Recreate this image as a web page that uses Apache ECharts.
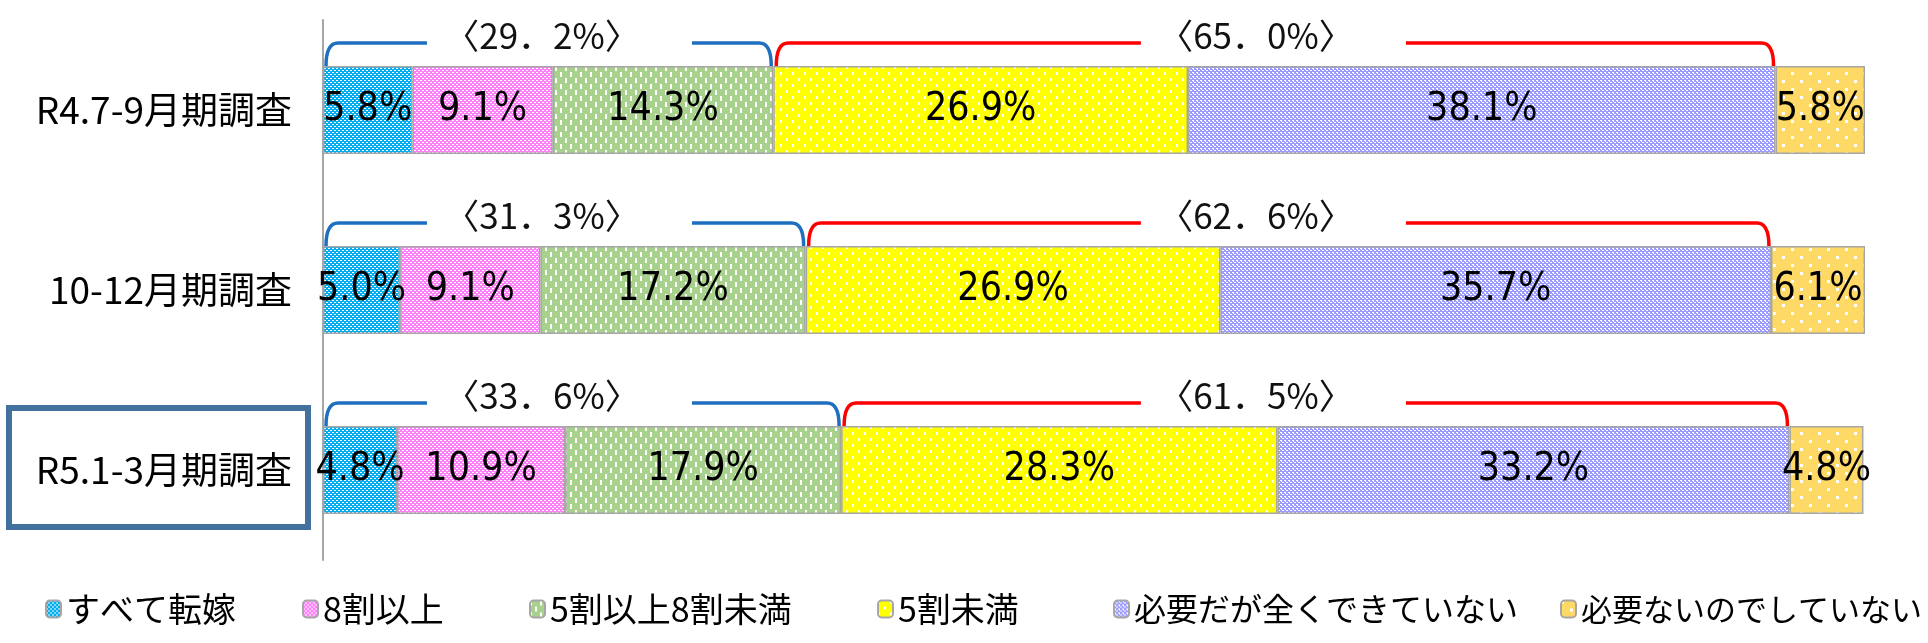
<!doctype html>
<html lang="ja">

<head>
    <meta charset="UTF-8" />
    <title>価格転嫁の状況</title>
    <style>
        html, body { margin: 0; padding: 0; background: #fff; }
        #main { width: 1928px; height: 643px; }
    </style>
</head>

<body>
    <div id="main"></div>

    <script src="https://cdn.jsdelivr.net/npm/echarts@6/dist/echarts.min.js"></script>
    <script type="text/javascript">
        // 調査期
        var categories = ['R4.7-9月期調査', '10-12月期調査', 'R5.1-3月期調査'];
        // 凡例
        var seriesNames = ['すべて転嫁', '8割以上', '5割以上8割未満', '5割未満', '必要だが全くできていない', '必要ないのでしていない'];
        // 各区分の割合（%）
        var allPassed = [5.8, 5.0, 4.8];
        var over80 = [9.1, 9.1, 10.9];
        var from50to80 = [14.3, 17.2, 17.9];
        var under50 = [26.9, 26.9, 28.3];
        var neededNone = [38.1, 35.7, 33.2];
        var notNeeded = [5.8, 6.1, 4.8];
        var values = [allPassed, over80, from50to80, under50, neededNone, notNeeded];

        // 括弧でまとめる区分（先頭から3つ／次の2つ）
        var groups = [
            { from: 0, to: 3, color: '#1F6FC0', labelAt: 14.2 },
            { from: 3, to: 5, color: '#FF0000', labelAt: 60.5 }
        ];

        var BAR_W = 88;
        var JP = '"Noto Sans CJK JP", sans-serif';
        var NUM = '"DejaVu Sans Condensed", "Noto Sans CJK JP", sans-serif';

        // 網掛けパターン
        function pattern(base, w, h, dots) {
            var c = document.createElement('canvas');
            c.width = w; c.height = h;
            var g = c.getContext('2d');
            g.fillStyle = base;
            g.fillRect(0, 0, w, h);
            g.fillStyle = '#ffffff';
            dots.forEach(function (d) { g.fillRect(d[0], d[1], d[2], d[3]); });
            return { image: c, repeat: 'repeat' };
        }
        var fills = [
            pattern('#00AEEF', 4, 4, [[0, 0, 2, 1], [2, 2, 2, 1]]),
            pattern('#FF80F8', 4, 4, [[0, 0, 2, 1], [2, 2, 2, 1]]),
            pattern('#A9D18E', 10, 12, [[0, 0, 2, 5], [5, 6, 2, 5]]),
            pattern('#FFFF00', 12, 12, [[0, 0, 2, 3], [6, 6, 2, 3]]),
            pattern('#9C9CFF', 4, 4, [[0, 0, 2, 1], [2, 2, 2, 1], [1, 1, 1, 1]]),
            pattern('#FFD966', 18, 16, [[0, 0, 3, 3], [9, 8, 3, 3]])
        ];

        var legendLeft = [45, 302, 529, 877, 1113, 1560];
        var legendFont = [34, 34, 34, 34, 32, 31];

        var bracketData = [];
        categories.forEach(function (c, row) {
            groups.forEach(function (g, gi) {
                var s = 0, e = 0;
                for (var k = 0; k < g.to; k++) {
                    if (k < g.from) s += values[k][row];
                    e += values[k][row];
                }
                bracketData.push([row, s, e, gi]);
            });
        });

        var series = seriesNames.map(function (name, i) {
            return {
                name: name,
                type: 'bar',
                stack: 'total',
                barWidth: BAR_W,
                data: values[i],
                itemStyle: { color: fills[i], borderColor: '#A6A6A6', borderWidth: 1.5 },
                label: {
                    show: true,
                    position: 'inside',
                    color: '#000',
                    fontFamily: NUM,
                    fontSize: 39,
                    formatter: function (p) { return p.value.toFixed(1) + '%'; }
                }
            };
        });

        series.push({
            type: 'custom',
            clip: false,
            silent: true,
            z: 10,
            encode: { x: [1, 2], y: 0 },
            data: bracketData,
            renderItem: function (params, api) {
                var row = api.value(0);
                var g = groups[api.value(3)];
                var p0 = api.coord([api.value(1), row]);
                var p1 = api.coord([api.value(2), row]);
                var top = p0[1] - BAR_W / 2;
                var yH = top - 23;
                var xa = p0[0] + 3, xb = p1[0] - 2, rx = 12;
                var lx = api.coord([g.labelAt, row])[0];
                var total = (api.value(2) - api.value(1)).toFixed(1).replace('.', '．');
                var st = { stroke: g.color, lineWidth: 3.5, fill: null };
                return {
                    type: 'group',
                    children: [
                        { type: 'path', shape: { pathData: 'M' + xa + ',' + top + ' Q' + xa + ',' + yH + ' ' + (xa + rx) + ',' + yH + ' L' + (lx - 115) + ',' + yH }, style: st },
                        { type: 'path', shape: { pathData: 'M' + (lx + 150) + ',' + yH + ' L' + (xb - rx) + ',' + yH + ' Q' + xb + ',' + yH + ' ' + xb + ',' + top }, style: st },
                        { type: 'text', x: lx, y: top - 30, style: { text: '〈' + total + '%〉', font: '35px ' + JP, fill: '#111', align: 'center', verticalAlign: 'middle' } }
                    ]
                };
            }
        });

        var chart = echarts.init(document.getElementById('main'));
        var option = {
            backgroundColor: '#fff',
            animation: false,
            grid: { left: 323, right: 63, top: 20, bottom: 83 },
            xAxis: { type: 'value', min: 0, max: 100, show: false },
            yAxis: {
                type: 'category',
                inverse: true,
                data: categories,
                axisLine: { show: true, lineStyle: { color: '#A6A6A6', width: 2 } },
                axisTick: { show: false },
                axisLabel: { color: '#000', fontFamily: JP, fontSize: 37, margin: 31 }
            },
            legend: seriesNames.map(function (name, i) {
                return {
                    data: [name],
                    left: legendLeft[i],
                    top: 611 - legendFont[i] / 2 - 2,
                    padding: 0,
                    itemWidth: 15,
                    itemHeight: 17,
                    selectedMode: false,
                    textStyle: { color: '#000', fontFamily: JP, fontSize: legendFont[i] }
                };
            }),
            series: series
        };
        chart.setOption(option);

        // 最新調査の枠
        var cy = chart.convertToPixel({ yAxisIndex: 0 }, 2);
        chart.setOption({
            graphic: [{
                type: 'rect',
                shape: { x: 9, y: cy - 62, width: 299, height: 119 },
                style: { stroke: '#41719C', lineWidth: 6, fill: null }
            }]
        });
    </script>
</body>

</html>
